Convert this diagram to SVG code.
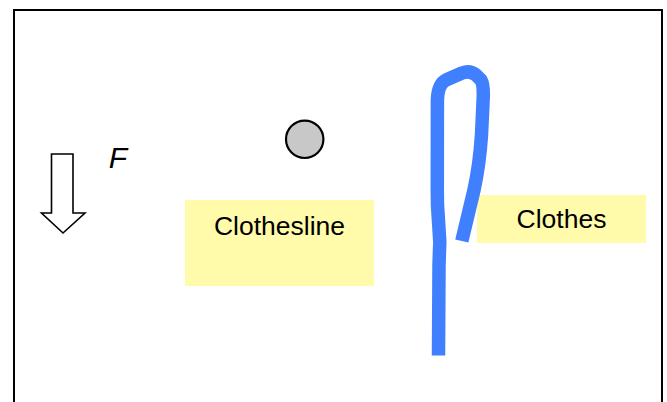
<svg xmlns="http://www.w3.org/2000/svg" width="667" height="402" viewBox="0 0 667 402">
<style>
.lbl{font-family:"Liberation Sans",Arial,sans-serif;font-size:26.5px;fill:#000;text-anchor:middle}
.box{fill:#fffbaa}
</style>
<rect width="667" height="402" fill="#fff"/>
<path d="M14,410 V10 H662 V410" fill="none" stroke="#000" stroke-width="2"/>
<g id="force-arrow">
<path d="M51.5,154 L73,154 L73,213 L85,213 L63,233 L41.5,213 L51.5,213 Z" fill="#fff" stroke="#000" stroke-width="1.6" stroke-linejoin="miter"/>
</g>
<g id="force-label">
<text x="118" y="168" font-family="Liberation Sans,Arial,sans-serif" font-size="30" font-style="italic" text-anchor="middle">F</text>
</g>
<g id="clothesline-circle">
<circle cx="304.7" cy="139.3" r="18.7" fill="#c8c8c8" stroke="#000" stroke-width="2.2"/>
</g>
<g id="clothesline">
<rect class="box" x="185" y="200" width="189" height="86"/>
<text class="lbl" x="279.5" y="235">Clothesline</text>
</g>
<g id="clothes">
<rect class="box" x="477" y="195" width="169" height="48"/>
<text class="lbl" x="561.5" y="228.3">Clothes</text>
</g>
<g id="connectors">
<path d="M438.5,355.5 L439,265 L439.8,242 L437.5,205 L437.3,190 L437.4,100 Q438,84 446,80 L462,73 Q470,70 476,75 L481,80 Q483.5,84 483.3,96 L481.5,135 Q479.5,165 474,190 L461.8,241" fill="none" stroke="#4080ff" stroke-width="13.5" stroke-linejoin="round" stroke-linecap="butt"/>
</g>
</svg>
